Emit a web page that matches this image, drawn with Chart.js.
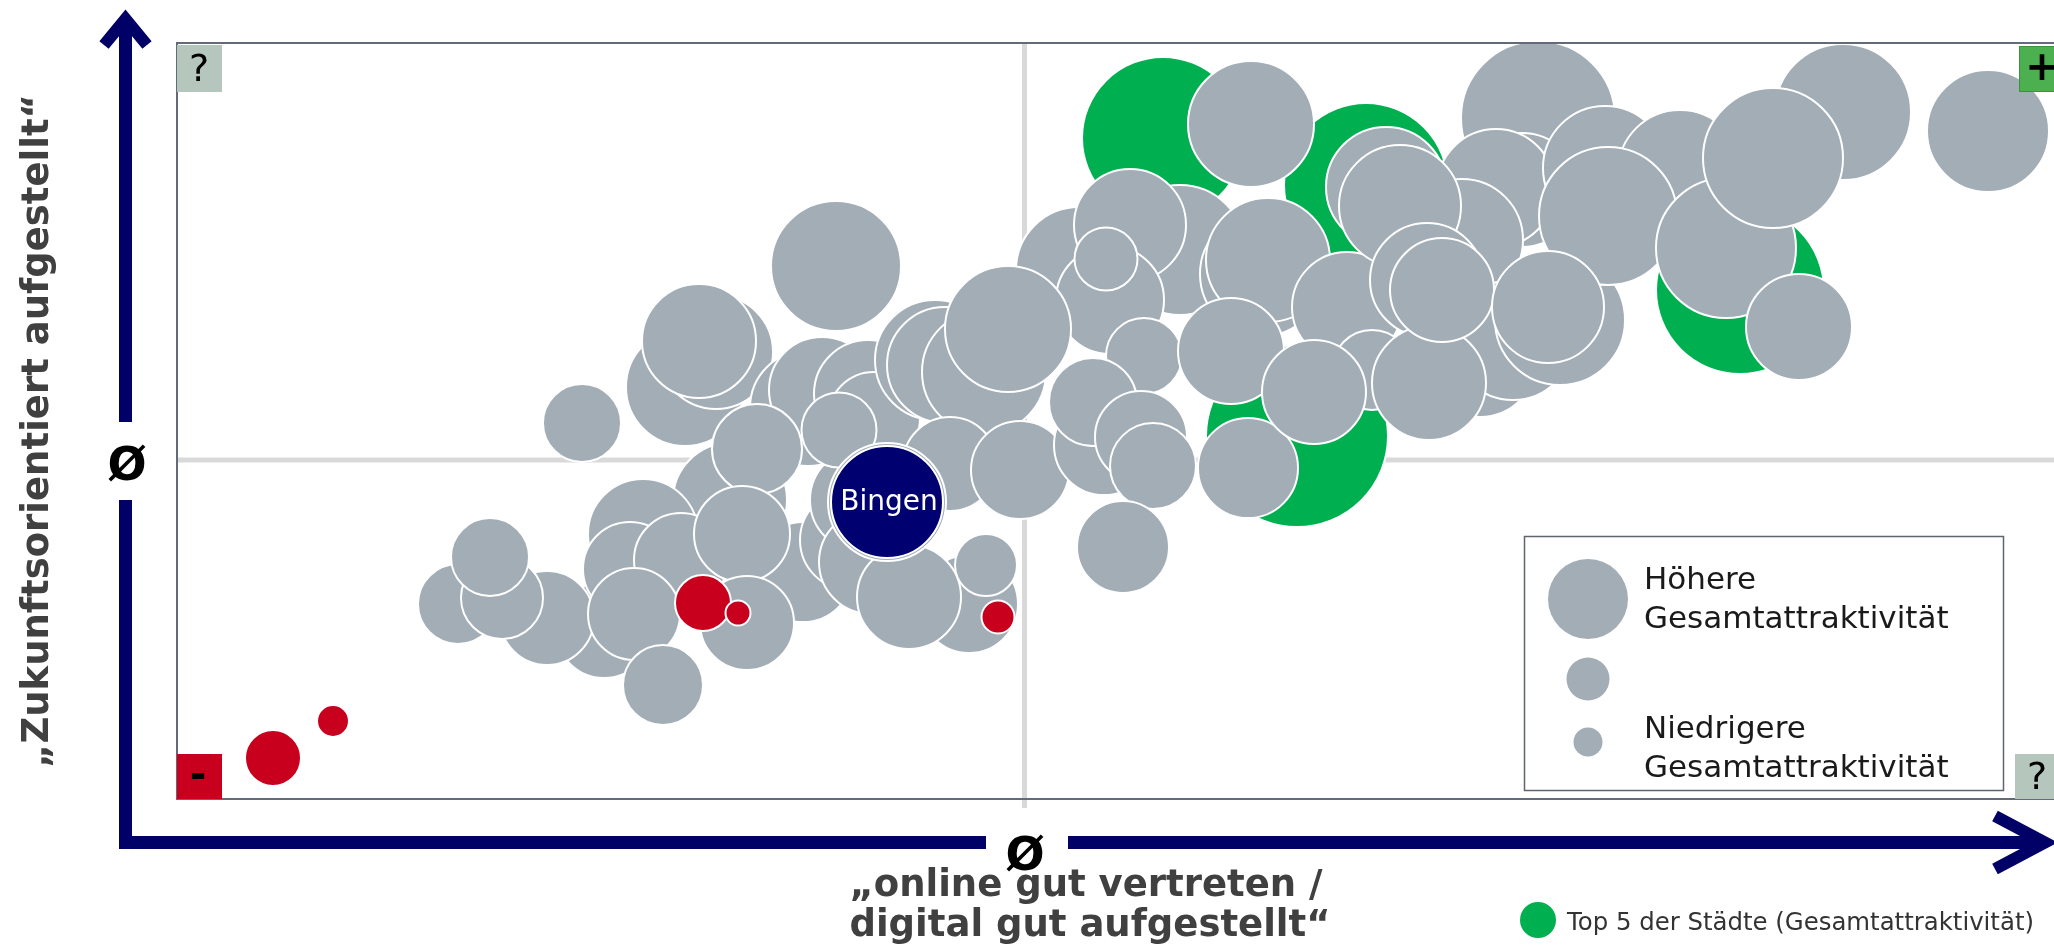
<!DOCTYPE html>
<html>
<head>
<meta charset="utf-8">
<script src="https://cdn.jsdelivr.net/npm/chart.js@4.4.1/dist/chart.umd.min.js"></script>
<style>
  html, body { margin: 0; padding: 0; background: #fff; }
  #wrap { position: relative; width: 2054px; height: 946px; }
</style>
</head>
<body>
<div id="wrap"><canvas id="myChart"></canvas></div>
<script>
// Städte: x = "online gut vertreten / digital gut aufgestellt", y = "zukunftsorientiert aufgestellt"
// r = Gesamtattraktivität (Blasengröße), Reihenfolge = Zeichenreihenfolge
const online = [
  98.6, 118.9, 112.0, 156.3, 9.6, 15.6,
  40.5, 50.8, 53.9, 52.2, 65.9,
  62.6, 67.3, 68.5, 63.1, 64.5,
  55.3, 58.0, 42.7, 46.6, 45.3, 50.4, 28.1, 37.0, 32.5, 31.3, 56.5, 57.0, 45.7, 48.6,
  69.1, 69.7, 66.2, 75.8, 76.8, 80.7,
  90.2, 100.3, 95.3, 93.3, 92.9, 83.1, 77.3, 84.3, 69.4, 79.2, 73.2, 80.9, 82.1, 52.6, 56.1,
  108.5, 109.1, 107.4, 96.7, 92.7, 91.6, 96.4, 97.6, 94.6, 105.4, 107.1, 117.0, 119.5, 113.7,
  136.1, 134.5, 131.9, 128.5, 120.9, 122.3, 125.0, 130.3, 133.6, 138.3, 125.2, 126.5,
  142.8, 150.3, 143.1, 137.1, 154.9, 166.6, 159.6, 162.2, 181.1,
  71.0, 71.0
];
const zukunft = [
  66.1, 61.4, 36.3, 50.9, 4.1, 7.8,
  37.6, 41.2, 44.7, 45.8, 53.3,
  22.7, 25.9, 29.9, 39.1, 40.9,
  29.9, 35.0, 16.9, 26.5, 23.0, 23.9, 19.5, 18.1, 20.1, 24.2, 26.5, 17.6, 18.5, 11.4,
  40.5, 38.1, 36.9, 43.9, 43.4, 42.7,
  52.9, 54.9, 57.4, 49.9, 54.0, 47.0, 33.5, 32.9, 23.7, 19.5, 20.2, 23.4, 18.2, 19.6, 18.6,
  52.5, 53.9, 67.5, 44.3, 35.4, 39.7, 36.2, 33.3, 25.2, 44.8, 33.1, 49.2, 42.9, 40.7,
  68.1, 60.9, 61.1, 55.9, 61.2, 59.3, 51.9, 43.9, 45.9, 47.9, 41.6, 50.9,
  63.1, 62.7, 58.3, 49.2, 55.1, 68.7, 64.1, 47.2, 66.8,
  29.7, 29.7
];
const attraktivitaet = [
  81, 82, 91, 84, 28, 16,
  39, 59, 57, 57, 65,
  50, 50, 52, 58, 53,
  57, 45, 48, 55, 47, 47, 40, 47, 41, 39, 48, 47, 46, 40,
  54, 46, 37.5, 60, 58, 62,
  63, 65, 56, 54, 31.5, 63, 47, 49, 52, 49, 52, 31, 16.5, 28, 12.5,
  62, 62, 63, 38, 50, 44, 46, 43, 46, 53, 50, 55, 40, 52,
  77, 57, 59, 61, 60, 61, 57, 57, 60, 65, 57, 52,
  62, 62, 69, 56, 70, 68, 70, 53, 61,
  59, 56
];
const gruppe = online.map(() => 'grau');
[0, 1, 2, 3].forEach(i => gruppe[i] = 'top5');
[4, 5, 48, 49, 50].forEach(i => gruppe[i] = 'rot');
gruppe[online.length - 1] = 'bingen';
const staedte = online.map((v, i) => gruppe[i] === 'bingen' ? 'Bingen' : '');

const mittelOnline = 84.75;   // Ø
const mittelZukunft = 33.9;   // Ø
const xBereich = [0, 187.7];
const yBereich = [0, 75.7];

const farben = { top5: '#00b050', rot: '#c8001e', grau: '#a2adb6', bingen: '#000070' };
const navy = '#000066';
const schrift = '"DejaVu Sans", Verdana, sans-serif';

const decor = {
  id: 'decor',
  beforeDatasetsDraw(chart) {
    const { ctx, chartArea: a, scales: { x, y } } = chart;
    const mx = x.getPixelForValue(mittelOnline), my = y.getPixelForValue(mittelZukunft);
    ctx.save();
    ctx.strokeStyle = '#d9d9d9';
    ctx.lineWidth = 5;
    ctx.beginPath();
    ctx.moveTo(mx, a.top); ctx.lineTo(mx, a.bottom + 9);
    ctx.moveTo(a.left, my); ctx.lineTo(a.right, my);
    ctx.stroke();
    ctx.restore();
  },
  afterDatasetsDraw(chart) {
    const { ctx, chartArea: a } = chart;
    ctx.save();
    // Rahmen der Grafik
    ctx.strokeStyle = '#626b77';
    ctx.lineWidth = 2;
    ctx.beginPath();
    ctx.moveTo(a.right, a.top + 1); ctx.lineTo(a.left, a.top + 1);
    ctx.lineTo(a.left, a.bottom); ctx.lineTo(a.right, a.bottom);
    ctx.stroke();

    // Ecken-Markierungen
    ctx.textAlign = 'center';
    ctx.textBaseline = 'middle';
    ctx.fillStyle = '#b5c7bc';
    ctx.fillRect(a.left, a.top + 3, 45, 47);
    ctx.fillRect(a.right - 39, a.bottom - 45, 39, 45);
    ctx.fillStyle = '#4caf50';
    ctx.fillRect(a.right - 35, a.top + 4, 35, 46);
    ctx.strokeStyle = '#3f8f43';
    ctx.lineWidth = 1;
    ctx.strokeRect(a.right - 34.5, a.top + 4.5, 35, 45);
    ctx.fillStyle = '#c8001e';
    ctx.fillRect(a.left, a.bottom - 45, 45, 45);
    ctx.fillStyle = '#000';
    ctx.font = '38px ' + schrift;
    ctx.fillText('?', a.left + 22, a.top + 29);
    ctx.fillText('?', a.right - 17, a.bottom - 20);
    ctx.font = 'bold 40px ' + schrift;
    ctx.fillText('+', a.right - 12, a.top + 28);
    ctx.fillText('-', a.left + 21, a.bottom - 21);

    // Beschriftung Bingen
    const meta = chart.getDatasetMeta(0);
    staedte.forEach((name, i) => {
      if (!name) return;
      const el = meta.data[i];
      ctx.fillStyle = '#ffffff';
      ctx.font = '28px ' + schrift;
      ctx.fillText(name, el.x + 2, el.y + 1);
    });

    // Legende Blasengröße
    ctx.fillStyle = '#ffffff';
    ctx.fillRect(1524.5, 536.5, 479, 254);
    ctx.strokeStyle = '#5c6570';
    ctx.lineWidth = 1.5;
    ctx.strokeRect(1524.5, 536.5, 479, 254);
    ctx.fillStyle = farben.grau;
    [[599, 40], [679, 21.5], [742, 14.5]].forEach(([cy, r]) => {
      ctx.beginPath(); ctx.arc(1588, cy, r, 0, Math.PI * 2); ctx.fill();
    });
    ctx.fillStyle = '#1a1a1a';
    ctx.font = '31px ' + schrift;
    ctx.textAlign = 'left';
    ctx.textBaseline = 'alphabetic';
    ctx.fillText('Höhere', 1644, 589);
    ctx.fillText('Gesamtattraktivität', 1644, 628);
    ctx.fillText('Niedrigere', 1644, 738);
    ctx.fillText('Gesamtattraktivität', 1644, 777);
    ctx.restore();
  },
  afterDraw(chart) {
    const { ctx } = chart;
    ctx.save();
    // Achsenpfeile
    ctx.fillStyle = navy;
    ctx.strokeStyle = navy;
    ctx.fillRect(119, 22, 13, 400);
    ctx.fillRect(119, 500, 13, 349);
    ctx.fillRect(119, 836, 867, 13);
    ctx.fillRect(1068, 836, 975, 13);
    ctx.lineWidth = 12;
    ctx.lineJoin = 'miter';
    ctx.beginPath();
    ctx.moveTo(104, 45); ctx.lineTo(125.5, 19); ctx.lineTo(147, 45);
    ctx.stroke();
    ctx.beginPath();
    ctx.moveTo(1995, 816); ctx.lineTo(2045, 842.5); ctx.lineTo(1995, 869);
    ctx.stroke();

    // Ø-Markierungen
    ctx.fillStyle = '#000';
    ctx.font = 'bold 46px ' + schrift;
    ctx.textAlign = 'center';
    ctx.textBaseline = 'middle';
    ctx.fillText('Ø', 127, 468);
    ctx.fillText('Ø', 1025, 858);

    // Achsentitel
    ctx.fillStyle = '#404040';
    ctx.font = 'bold 37px ' + schrift;
    ctx.textBaseline = 'alphabetic';
    ctx.fillText('„online gut vertreten /', 1086, 896);
    ctx.fillText('digital gut aufgestellt“', 1090, 936);
    ctx.save();
    ctx.translate(48, 431);
    ctx.rotate(-Math.PI / 2);
    ctx.fillText('„Zukunftsorientiert aufgestellt“', 0, 0);
    ctx.restore();

    // Legende Top 5
    ctx.fillStyle = farben.top5;
    ctx.beginPath(); ctx.arc(1538, 920, 18, 0, Math.PI * 2); ctx.fill();
    ctx.fillStyle = '#333333';
    ctx.font = '24.4px ' + schrift;
    ctx.textAlign = 'left';
    ctx.fillText('Top 5 der Städte (Gesamtattraktivität)', 1567, 930);
    ctx.restore();
  }
};

const chart = new Chart('myChart', {
  type: 'bubble',
  data: {
    datasets: [{
      data: online.map((x, i) => ({ x: x, y: zukunft[i], r: attraktivitaet[i] })),
      backgroundColor: gruppe.map(g => farben[g]),
      borderColor: '#ffffff',
      borderWidth: 2,
      clip: 0
    }]
  },
  options: {
    responsive: true,
    maintainAspectRatio: false,
    animation: false,
    devicePixelRatio: 1,
    events: [],
    layout: { autoPadding: false, padding: { left: 177, top: 42, right: 0, bottom: 147 } },
    scales: {
      x: { display: false, min: xBereich[0], max: xBereich[1] },
      y: { display: false, min: yBereich[0], max: yBereich[1] }
    },
    plugins: { legend: { display: false }, tooltip: { enabled: false } }
  },
  plugins: [decor]
});
</script>
</body>
</html>
